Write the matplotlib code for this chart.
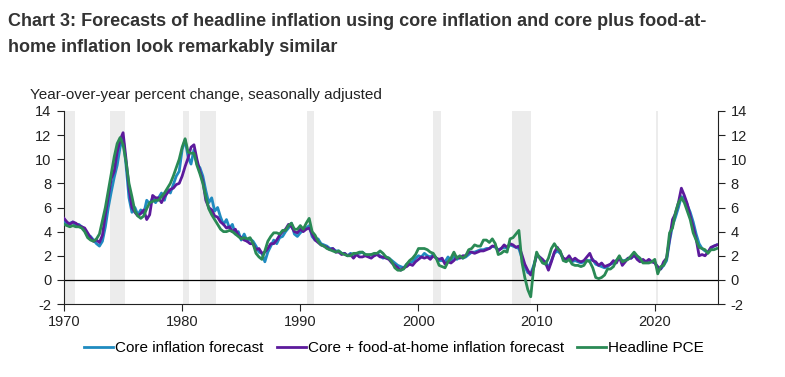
import numpy as np
import matplotlib
matplotlib.use("Agg")
import matplotlib.pyplot as plt

start_year = 1970
core_forecast = [
    4.9, 4.6, 4.7, 4.8,  4.5, 4.6, 4.4, 4.1,  3.7, 3.6, 3.3, 3.0,  2.8, 3.2, 4.4, 6.0,
    7.3, 8.5, 9.5, 11.0, 11.8, 9.5, 6.8, 5.6,  6.0, 5.4, 5.8, 5.5,  6.6, 6.3, 6.8, 6.4,
    6.8, 7.2, 6.6, 7.5,  7.2, 7.9, 8.6, 9.0,  10.8, 11.6, 10.2, 9.6,  10.8, 9.6, 9.3, 8.6,
    7.4, 6.4, 6.8, 5.7,  6.0, 5.2, 4.6, 5.0,  4.3, 4.6, 3.8, 4.0,  3.3, 3.8, 3.2, 3.4,
    3.2, 2.8, 2.3, 2.2,  1.5, 2.3, 2.8, 3.3,  3.0, 3.5, 3.6, 4.0,  4.3, 4.7, 3.8, 3.6,
    3.9, 4.1, 4.3, 4.5,  3.6, 3.3, 3.4, 3.0,  2.9, 2.8, 2.6, 2.6,  2.4, 2.4, 2.2, 2.2,
    2.0, 2.2, 2.1, 2.2,  2.2, 2.3, 2.1, 2.0,  2.1, 2.0, 2.2, 2.0,  1.8, 1.9, 1.8, 1.6,
    1.4, 1.2, 1.1, 1.0,  1.3, 1.4, 1.5, 1.8,  2.0, 1.9, 2.2, 2.0,  1.9, 2.1, 1.8, 1.6,
    1.6, 1.5, 1.9, 1.6,  2.0, 1.7, 1.9, 1.8,  1.9, 2.1, 2.3, 2.3,  2.4, 2.5, 2.5, 2.6,
    2.6, 2.8, 2.7, 2.5,  2.6, 2.7, 2.6, 2.9,  2.8, 2.7, 2.6, 1.8,  1.1, 0.6, 0.5, 1.2,
    2.0, 1.9, 1.6, 1.5,  1.0, 1.6, 2.2, 2.4,  2.2, 1.8, 1.6, 1.7,  1.5, 1.6, 1.5, 1.4,
    1.5, 1.6, 1.6, 1.7,  1.3, 1.2, 1.1, 1.0,  1.1, 1.3, 1.4, 1.6,  1.8, 1.6, 1.6, 1.8,
    1.8, 2.0, 1.8, 1.6,  1.5, 1.5, 1.6, 1.5,  1.5, 0.9, 0.9, 1.2,  1.6, 3.2, 4.5, 5.2,
    6.0, 6.9, 6.8, 6.2,  5.6, 4.8, 3.8, 3.0,  2.6, 2.4, 2.3, 2.6,  2.8, 2.9,
]
core_food_forecast = [
    5.1, 4.8, 4.6, 4.8,  4.7, 4.5, 4.4, 4.3,  3.9, 3.5, 3.2, 3.3,  3.1, 3.7, 5.4, 6.9,
    8.4, 9.0, 10.6, 11.6, 12.2, 10.0, 7.6, 6.0,  5.6, 5.3, 5.5, 5.8,  5.0, 5.4, 7.0, 6.8,
    6.8, 6.4, 6.9, 7.2,  7.5, 7.6, 7.9, 8.0,  8.6, 9.4, 10.1, 11.0,  11.2, 10.0, 9.0, 8.2,
    6.6, 6.0, 5.8, 5.3,  5.2, 4.8, 4.6, 4.3,  4.4, 4.0, 4.2, 3.7,  3.5, 3.3, 3.2, 3.0,
    3.0, 2.5, 2.6, 2.2,  2.3, 2.6, 3.0, 3.0,  3.3, 3.7, 4.0, 4.2,  4.6, 4.4, 4.0, 3.9,
    4.2, 4.0, 4.2, 4.3,  3.8, 3.3, 3.1, 2.9,  2.8, 2.7, 2.5, 2.6,  2.3, 2.3, 2.1, 2.2,
    2.0, 2.1, 1.8, 2.1,  1.9, 1.9, 2.0, 1.9,  1.8, 2.0, 2.1, 1.9,  1.9, 1.8, 1.7, 1.4,
    1.2, 1.0, 0.8, 1.0,  1.1, 1.3, 1.2, 1.5,  1.7, 1.9, 1.8, 1.9,  1.7, 2.0, 1.8, 1.7,
    1.8, 1.3, 1.5, 1.4,  1.6, 1.9, 1.8, 2.0,  2.0, 2.3, 2.3, 2.2,  2.3, 2.4, 2.4, 2.5,
    2.6, 2.8, 2.8, 2.4,  2.6, 2.9, 2.7, 3.0,  2.9, 2.7, 2.8, 2.1,  1.3, 0.8, 0.4, 1.0,
    2.1, 1.9, 1.7, 1.4,  0.8, 1.5, 2.3, 2.7,  2.3, 1.8, 1.7, 2.0,  1.6, 1.8, 1.6, 1.5,
    1.6, 1.9, 2.2, 1.6,  1.5, 1.2, 1.4, 1.1,  1.2, 1.3, 1.6, 1.4,  1.9, 1.2, 1.5, 1.8,
    1.8, 2.1, 1.7, 1.5,  1.7, 1.5, 1.7, 1.5,  1.4, 1.1, 0.9, 1.5,  1.8, 3.4, 5.0, 5.5,
    6.4, 7.6, 7.0, 6.3,  5.3, 4.4, 3.4, 2.0,  2.1, 2.0, 2.3, 2.7,  2.8, 2.9,
]
headline_pce = [
    4.6, 4.5, 4.4, 4.5,  4.4, 4.4, 4.3, 4.0,  3.5, 3.3, 3.2, 3.4,  3.8, 4.9, 6.0, 7.4,
    8.8, 10.2, 11.3, 11.8, 11.2, 9.8, 8.0, 6.9,  5.7, 5.3, 5.1, 5.3,  5.9, 6.4, 6.5, 6.6,
    6.6, 6.9, 7.2, 7.6,  8.0, 8.6, 9.3, 10.0,  11.0, 11.7, 10.6, 10.5,  10.5, 9.5, 8.8, 8.0,
    6.9, 5.9, 5.4, 5.0,  4.6, 4.2, 4.0, 4.0,  4.1, 4.0, 3.8, 3.6,  3.4, 3.5, 3.4, 3.5,
    3.0, 2.2, 1.9, 1.7,  2.4, 3.2, 3.6, 3.9,  3.9, 3.8, 4.1, 4.1,  4.5, 4.7, 4.2, 4.2,
    4.5, 4.2, 4.7, 5.1,  4.0, 3.7, 3.2, 2.9,  2.8, 2.6, 2.5, 2.4,  2.3, 2.4, 2.2, 2.1,
    2.0, 2.0, 2.2, 2.2,  2.3, 2.3, 2.1, 2.1,  2.1, 2.2, 2.2, 2.4,  2.2, 1.9, 1.8, 1.5,
    1.0, 0.8, 0.8, 0.9,  1.3, 1.6, 1.8, 2.1,  2.6, 2.6, 2.6, 2.5,  2.3, 2.2, 1.8, 1.2,
    1.1, 1.0, 1.5, 1.8,  2.3, 1.8, 2.0, 1.8,  2.0, 2.5, 2.6, 2.9,  2.8, 2.8, 3.3, 3.3,
    3.1, 3.4, 3.0, 2.1,  2.2, 2.4, 2.3, 3.4,  3.5, 3.8, 4.1, 1.5,  0.2, -0.8, -1.4, 1.0,
    2.3, 1.8, 1.4, 1.3,  1.8, 2.6, 3.0, 2.6,  2.4, 1.6, 1.5, 1.7,  1.3, 1.2, 1.2, 1.1,
    1.2, 1.6, 1.5, 1.0,  0.2, 0.1, 0.2, 0.4,  0.9, 0.9, 1.1, 1.6,  2.0, 1.5, 1.6, 1.7,
    2.0, 2.3, 2.0, 1.8,  1.4, 1.4, 1.4, 1.5,  1.7, 0.5, 1.1, 1.2,  1.8, 3.9, 4.3, 5.6,
    6.4, 6.8, 6.4, 5.7,  5.0, 3.9, 3.3, 2.7,  2.6, 2.5, 2.2, 2.5,  2.5, 2.6,
]
recessions = [(1969.95, 1970.9), (1973.9, 1975.2), (1980.05, 1980.55),
              (1981.55, 1982.9), (1990.55, 1991.2), (2001.2, 2001.9),
              (2007.95, 2009.5), (2020.1, 2020.3)]
x_ticks = [1970, 1980, 1990, 2000, 2010, 2020]
y_ticks = [-2, 0, 2, 4, 6, 8, 10, 12, 14]
labels = ["Core inflation forecast", "Core + food-at-home inflation forecast", "Headline PCE"]
colors = ["#1f8bc0", "#5c1a9c", "#2a8a55"]

plt.rcParams['font.family'] = ['Liberation Sans', 'DejaVu Sans']

fig = plt.figure(figsize=(7.85, 3.77), dpi=100)
ax = fig.add_axes([64/785, 1-304/377, (718-64)/785, (304-111)/377])

n = len(headline_pce)
x = start_year + np.arange(n) * 0.25

for a, b in recessions:
    ax.axvspan(a, b, color="#ececec", lw=0, zorder=0)

for series, lab, col in zip([core_forecast, core_food_forecast, headline_pce], labels, colors):
    ax.plot(x, series, color=col, lw=2.0, label=lab, zorder=3)

ax.axhline(0, color="black", lw=0.9, zorder=2)
ax.set_xlim(1970, 2025.35)
ax.set_ylim(-2, 14)
ax.set_xticks(x_ticks)
ax.set_xticklabels([str(t) for t in x_ticks])
ax.set_yticks(y_ticks)
ax.set_yticklabels([str(t) for t in y_ticks])
ax.tick_params(axis='y', which='both', left=True, right=True, labelleft=True, labelright=True,
               direction='out', length=5, width=0.8, labelsize=10.5, colors='#222222', pad=4)
ax.tick_params(axis='x', direction='out', length=5, width=0.8, labelsize=10.5, colors='#222222', pad=3)
ax.spines['top'].set_visible(False)
for s in ['left', 'right', 'bottom']:
    ax.spines[s].set_linewidth(0.8)
    ax.spines[s].set_color('#222222')

fig.text(8/785, 1-22/377, "Chart 3: Forecasts of headline inflation using core inflation and core plus food-at-",
         fontsize=13, fontweight='bold', color='#333333', va='center', ha='left')
fig.text(8/785, 1-47/377, "home inflation look remarkably similar",
         fontsize=13, fontweight='bold', color='#333333', va='center', ha='left')
fig.text(30/785, 1-95/377, "Year-over-year percent change, seasonally adjusted",
         fontsize=11, color='#222222', va='center', ha='left')

fig.legend(loc='center', bbox_to_anchor=(394/785, 1-348/377), ncol=3, frameon=False,
           fontsize=11, handlelength=1.9, handletextpad=0.1, columnspacing=0.9)

fig.savefig("out.png", dpi=100)
